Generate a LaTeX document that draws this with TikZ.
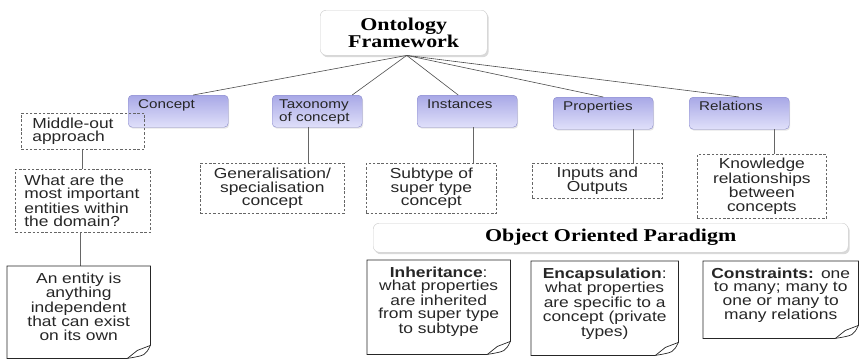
\documentclass[tikz,border=0pt]{standalone}
\usepackage{fontspec}
\setmainfont{Liberation Sans}[FakeStretch=1.2]
\newfontfamily\headfont{Liberation Serif}[FakeStretch=1.22]
\usetikzlibrary{shadows}
\hyphenpenalty=10000

\definecolor{catTop}{RGB}{224,224,250}
\definecolor{catBot}{RGB}{168,168,230}
\definecolor{catEdge}{RGB}{138,138,204}
\definecolor{ink}{RGB}{38,38,38}

\newcommand\boxfont{\fontsize{14.5}{13.4}\selectfont}

% sheet with a curled lower right corner, drawn round a named node
\newcommand\curlnote[1]{%
  \draw[sheet] (#1.north west) -- (#1.north east) -- ([yshift=13pt]#1.south east)
    .. controls ([shift={(-5pt,3pt)}]#1.south east) .. ([xshift=-23pt]#1.south east)
    -- (#1.south west) -- cycle;
  \draw[sheet] ([yshift=13pt]#1.south east) -- ([shift={(-13pt,8pt)}]#1.south east)
    -- ([xshift=-23pt]#1.south east);}

\begin{document}
\begin{tikzpicture}[x=1pt,y=-1pt,
  head/.style={draw=black!20,fill=white,rounded corners=6pt,anchor=north west,
    drop shadow={opacity=0.3,shadow xshift=1.5pt,shadow yshift=-2pt},
    font=\headfont\bfseries\fontsize{18}{17}\selectfont,align=center,inner sep=0pt},
  % y runs downwards here, so the shading is given upside down
  cat/.style={draw=catEdge,top color=catBot,bottom color=catTop,rounded corners=4pt,
    anchor=north west,drop shadow={opacity=0.2,shadow xshift=1pt,shadow yshift=-1.5pt},
    font=\fontsize{12.7}{11.7}\selectfont,text=ink,align=left,
    text width=#1,inner xsep=10pt,inner ysep=4pt,text height=9pt,text depth=15pt},
  dbox/.style={draw=black!60,dash pattern=on 2.5pt off 1.8pt,line width=0.7pt,
    anchor=north west,font=\boxfont,text=ink,inner sep=0pt},
  note/.style={anchor=north west,font=\boxfont,text=ink,align=center,text width=#1,
    inner xsep=3pt,inner ysep=6pt,text height=11pt},
  sheet/.style={draw=black!85,line width=0.7pt},
  spoke/.style={draw=black!70,line width=0.6pt},
  link/.style={draw=black!60,line width=0.8pt}]
  \useasboundingbox (0,0) rectangle (859,360);

  % root and the five parts
  \node[head,minimum width=167pt,minimum height=45pt] (onto) at (320,10) {Ontology\\Framework};
  \coordinate (hub) at ([xshift=3pt]onto.south);
  \node[cat=80pt] (concept) at (128,95) {Concept};
  \node[cat=76pt,inner xsep=7pt] (taxo) at (272,95) {Taxonomy\\of concept};
  \node[cat=80pt] (inst) at (417,95) {Instances};
  \node[cat=80pt] (prop) at (553,97) {Properties};
  \node[cat=80pt] (rel) at (689,97) {Relations};
  \draw[spoke] (hub) -- ([xshift=15pt]concept.north);
  \draw[spoke] (hub) -- ([xshift=35pt]taxo.north);
  \draw[spoke] (hub) -- ([xshift=-9pt]inst.north);
  \draw[spoke] (hub) -- (prop.north);
  \draw[spoke] (hub) -- (rel.north);

  % dashed explanations
  \node[dbox,text width=101pt,inner xsep=11pt,minimum height=36pt,align=left] (mid) at (21,113) {Middle-out\\approach};
  \node[dbox,text width=117pt,inner xsep=9pt,minimum height=63pt,align=left] (what) at (15,169) {What are the\\most important\\entities within\\the domain?};
  \node[dbox,text width=144pt,minimum height=50pt,align=center] (gen) at (200,163) {Generalisation/\\specialisation\\concept};
  \node[dbox,text width=130pt,minimum height=50pt,align=center] (sub) at (366,163) {Subtype of\\super type\\concept};
  \node[dbox,text width=130pt,minimum height=35pt,align=center] (inp) at (532,163) {Inputs and\\Outputs};
  \node[dbox,text width=129pt,minimum height=64pt,align=center] (know) at (697,154) {Knowledge\\relationships\\between\\concepts};
  \draw[link] (mid.south) -- (mid.south |- what.north);
  \draw[link] ([xshift=-2pt]what.south) coordinate (w) -- (w |- 0,266);
  \draw[link] ([xshift=-9pt]taxo.south) coordinate (t) -- (t |- gen.north);
  \draw[link] ([xshift=6pt]inst.south) coordinate (i) -- (i |- sub.north);
  \draw[link] ([xshift=30pt]prop.south) coordinate (p) -- (p |- inp.north);
  \draw[link] ([xshift=35pt]rel.south) coordinate (r) -- (r |- know.north);

  % object oriented side
  \node[head,minimum width=475pt,minimum height=29pt] (oop) at (373,223) {Object Oriented Paradigm};
  \node[note=137pt,text depth=69pt] (entity) at (7,266) {An entity is\\anything\\independent\\that can exist\\on its own};
  \node[note=137pt,text depth=71pt] (inher) at (367,260) {\textbf{Inheritance}:\\what properties\\are inherited\\from super type\\to subtype};
  \node[note=141pt,text depth=71pt] (encap) at (531,261) {\textbf{Encapsulation}:\\what properties\\are specific to a\\concept (private\\types)};
  \node[note=149pt,text depth=54pt] (constr) at (703,261) {\textbf{Constraints:} one\\to many; many to\\one or many to\\many relations};
  \curlnote{entity}
  \curlnote{inher}
  \curlnote{encap}
  \curlnote{constr}
\end{tikzpicture}
\end{document}
